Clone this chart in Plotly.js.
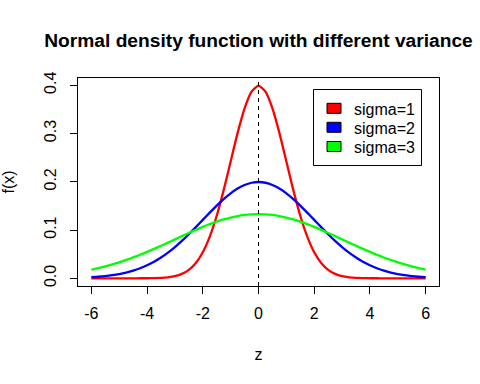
<!DOCTYPE html>
<html>
<head>
<meta charset="utf-8">
<script src="https://cdn.plot.ly/plotly-3.0.1.min.js"></script>
<style>html,body{margin:0;padding:0;background:#fff}#chart{width:480px;height:384px}</style>
</head>
<body>
<div id="chart"></div>
<script>
var zValues = [-6,-5.75,-5.5,-5.25,-5,-4.75,-4.5,-4.25,-4,-3.75,-3.5,-3.25,-3,-2.75,-2.5,-2.25,-2,-1.75,-1.5,-1.25,-1,-0.75,-0.5,-0.25,0,0.25,0.5,0.75,1,1.25,1.5,1.75,2,2.25,2.5,2.75,3,3.25,3.5,3.75,4,4.25,4.5,4.75,5,5.25,5.5,5.75,6];
var sigma1 = [0,0,0,0,0,0.00001,0.00002,0.00005,0.00013,0.00035,0.00087,0.00203,0.00443,0.00909,0.01753,0.03174,0.05399,0.08628,0.12952,0.18265,0.24197,0.30114,0.35207,0.38667,0.39894,0.38667,0.35207,0.30114,0.24197,0.18265,0.12952,0.08628,0.05399,0.03174,0.01753,0.00909,0.00443,0.00203,0.00087,0.00035,0.00013,0.00005,0.00002,0.00001,0,0,0,0,0];
var sigma2 = [0.00222,0.00320,0.00454,0.00636,0.00876,0.01189,0.01587,0.02086,0.02700,0.03439,0.04314,0.05327,0.06476,0.07751,0.09133,0.10594,0.12099,0.13603,0.15057,0.16408,0.17603,0.18593,0.19333,0.19792,0.19947,0.19792,0.19333,0.18593,0.17603,0.16408,0.15057,0.13603,0.12099,0.10594,0.09133,0.07751,0.06476,0.05327,0.04314,0.03439,0.02700,0.02086,0.01587,0.01189,0.00876,0.00636,0.00454,0.00320,0.00222];
var sigma3 = [0.01800,0.02119,0.02477,0.02876,0.03316,0.03797,0.04317,0.04875,0.05467,0.06088,0.06733,0.07395,0.08066,0.08736,0.09397,0.10038,0.10648,0.11218,0.11736,0.12192,0.12579,0.12889,0.13115,0.13252,0.13298,0.13252,0.13115,0.12889,0.12579,0.12192,0.11736,0.11218,0.10648,0.10038,0.09397,0.08736,0.08066,0.07395,0.06733,0.06088,0.05467,0.04875,0.04317,0.03797,0.03316,0.02876,0.02477,0.02119,0.01800];
var seriesNames = ["sigma=1","sigma=2","sigma=3"];
var seriesColors = ["#ff0000","#0000ff","#00ff00"];
var xTicks = [-6,-4,-2,0,2,4,6];
var yTicks = [0,0.1,0.2,0.3,0.4];
var yTickText = ["0.0","0.1","0.2","0.3","0.4"];

var series = [sigma1, sigma2, sigma3];
var traces = series.map(function(s, i){
  return {x: zValues, y: s, type: 'scatter', mode: 'lines', name: seriesNames[i],
    line: {color: seriesColors[i], width: 2.3, shape: 'spline', smoothing: 0.6}, showlegend: false, hoverinfo: 'skip'};
});

// plot area in pixels: left 78, right 439, top 78, bottom 286
var PL = 78, PR = 439, PT = 78, PB = 286;
function px(X){ return (X - PL) / (PR - PL); }
function py(Y){ return (PB - Y) / (PB - PT); }

var font = {family: 'Liberation Sans, Arial, sans-serif', color: '#000', size: 16};
var shapes = [
  {type: 'line', xref: 'x', yref: 'paper', x0: 0, x1: 0, y0: 0, y1: 1, line: {color: '#000', width: 1, dash: '4px,4px'}},
  {type: 'rect', xref: 'paper', yref: 'paper', x0: px(313.5), x1: px(421.5), y0: py(165.5), y1: py(89.5), line: {color: '#000', width: 1}, fillcolor: '#fff', layer: 'above'}
];
var annotations = [];
var rowY = [108.3, 127.3, 146.5];
seriesNames.forEach(function(n, i){
  shapes.push({type: 'rect', xref: 'paper', yref: 'paper', x0: px(327), x1: px(341), y0: py(rowY[i] + 5), y1: py(rowY[i] - 5),
    line: {color: '#000', width: 1}, fillcolor: seriesColors[i], layer: 'above'});
  annotations.push({xref: 'paper', yref: 'paper', x: px(352), y: py(rowY[i] + 1), xanchor: 'left', yanchor: 'middle',
    text: n, showarrow: false, font: font});
});

var layout = {
  width: 480, height: 384,
  margin: {l: PL, r: 480 - PR, t: PT, b: 384 - PB, pad: 0},
  paper_bgcolor: '#fff', plot_bgcolor: '#fff',
  font: font,
  title: {text: '<b>Normal density function with different variance</b>', font: {family: font.family, size: 19.2, color: '#000'},
    xref: 'paper', x: 0.5, xanchor: 'center', yref: 'container', y: 1 - 40/384, yanchor: 'middle'},
  xaxis: {range: [-6.48, 6.48], tickvals: xTicks, ticktext: xTicks.map(String), ticks: 'outside', ticklen: 7, tickwidth: 1, tickcolor: '#000',
    showline: true, linecolor: '#000', linewidth: 1, mirror: true, showgrid: false, zeroline: false,
    ticklabelstandoff: 6, tickfont: font, title: {text: 'z', font: font, standoff: 27}, automargin: false},
  yaxis: {range: [-0.01596, 0.41489], tickvals: yTicks, ticktext: yTickText, ticks: 'outside', ticklen: 7, tickwidth: 1, tickcolor: '#000',
    showline: true, linecolor: '#000', linewidth: 1, mirror: true, showgrid: false, zeroline: false,
    tickangle: -90, ticklabelstandoff: 8, tickfont: font, title: {text: 'f(x)', font: font, standoff: 22}, automargin: false},
  shapes: shapes,
  annotations: annotations,
  showlegend: false
};
Plotly.newPlot('chart', traces, layout, {displayModeBar: false, staticPlot: true});
</script>
</body>
</html>
